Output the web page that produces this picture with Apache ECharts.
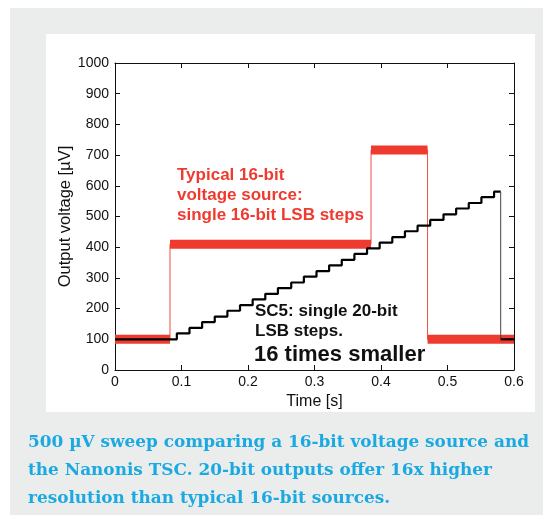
<!DOCTYPE html>
<html><head><meta charset="utf-8">
<script src="https://cdn.jsdelivr.net/npm/echarts@6/dist/echarts.min.js"></script>
<style>html,body{margin:0;padding:0;background:#fff}#c{width:543px;height:515px}</style>
</head><body><div id="c"></div>
<script>
// ---- data ----
const redTimes = [0, 0.0827, 0.385, 0.470, 0.6];          // segment boundaries [s]
const redLevels = [100, 410, 717, 100];                   // 16-bit source levels [µV]
const blackTimes = [0, 0.093, 0.112, 0.131, 0.150, 0.169, 0.188, 0.207, 0.226, 0.245, 0.265,
  0.284, 0.303, 0.322, 0.341, 0.360, 0.379, 0.398, 0.417, 0.436, 0.455, 0.474, 0.494,
  0.513, 0.532, 0.551, 0.570, 0.580, 0.6];
const blackLevels = [100, 119, 137, 156, 174, 193, 211, 230, 248, 267, 285, 304, 322, 341,
  359, 378, 396, 415, 433, 452, 470, 489, 507, 526, 544, 563, 581, 100];
const xTickValues = [0, 0.1, 0.2, 0.3, 0.4, 0.5, 0.6];
const yTickValues = [0, 100, 200, 300, 400, 500, 600, 700, 800, 900, 1000];
const redNote = ['Typical 16-bit', 'voltage source:', 'single 16-bit LSB steps'];
const blackNote = ['SC5: single 20-bit', 'LSB steps.'];
const blackNote2 = '16 times smaller';
const caption = ['500 µV sweep comparing a 16-bit voltage source and',
  'the Nanonis TSC. 20-bit outputs offer 16x higher',
  'resolution than typical 16-bit sources.'];

// ---- build series data ----
const redPath = [];
for (let i = 0; i < redLevels.length; i++) redPath.push([redTimes[i], redLevels[i]]);
redPath.push([redTimes[redTimes.length - 1], redLevels[redLevels.length - 1]]);
const redBand = [];
for (let i = 0; i < redLevels.length; i++) {
  redBand.push([redTimes[i], redLevels[i]]);
  redBand.push([redTimes[i + 1], redLevels[i]]);
  redBand.push([redTimes[i + 1], '-']);
}
const nB = blackLevels.length;
const stair = [];
for (let i = 0; i < nB - 1; i++) stair.push([blackTimes[i], blackLevels[i]]);
stair.push([blackTimes[nB - 1], blackLevels[nB - 2]]);
const drop = [[blackTimes[nB - 1], blackLevels[nB - 2]], [blackTimes[nB - 1], blackLevels[nB - 1]]];
const tail = [[blackTimes[nB - 1], blackLevels[nB - 1]], [blackTimes[nB], blackLevels[nB - 1]]];

const FONT = "'Liberation Sans', Arial, sans-serif";
const RED = '#ef3b2f';
const chart = echarts.init(document.getElementById('c'), null, { renderer: 'canvas' });

const graphics = [
  { type: 'rect', z: -10, shape: { x: 10, y: 8, width: 533, height: 507 }, style: { fill: '#ebecec' } },
  { type: 'rect', z: -9, shape: { x: 46, y: 34, width: 489, height: 378 }, style: { fill: '#ffffff' } }
];
redNote.forEach((t, i) => graphics.push({ type: 'text', x: 177, y: 175 + i * 20,
  style: { text: t, font: 'bold 17px ' + FONT, fill: RED, verticalAlign: 'middle' } }));
blackNote.forEach((t, i) => graphics.push({ type: 'text', x: 255, y: 311 + i * 20,
  style: { text: t, font: 'bold 17px ' + FONT, fill: '#111', verticalAlign: 'middle' } }));
graphics.push({ type: 'text', x: 254, y: 355,
  style: { text: blackNote2, font: 'bold 22px ' + FONT, fill: '#111', verticalAlign: 'middle' } });
caption.forEach((t, i) => graphics.push({ type: 'text', x: 28, y: 443 + i * 27.7,
  style: { text: t, font: "bold 16.9px 'DejaVu Serif', serif", fill: '#1ba9e1', verticalAlign: 'middle' } }));

const axisCommon = {
  type: 'value',
  axisLine: { show: true, onZero: false, lineStyle: { color: '#111', width: 1 } },
  axisTick: { show: true, inside: true, length: 5, lineStyle: { color: '#111' } },
  splitLine: { show: false }
};
const option = {
  animation: false,
  grid: { left: 115, right: 29, top: 63, bottom: 145 },
  xAxis: [
    Object.assign({}, axisCommon, {
      min: xTickValues[0], max: xTickValues[xTickValues.length - 1], interval: 0.1, position: 'bottom',
      name: 'Time [s]', nameLocation: 'middle', nameGap: 21,
      nameTextStyle: { fontFamily: FONT, fontSize: 16, color: '#111' },
      axisLabel: { fontFamily: FONT, fontSize: 14, color: '#111', margin: 5,
        formatter: v => v === 0 ? '0' : v.toFixed(1) }
    }),
    Object.assign({}, axisCommon, {
      min: xTickValues[0], max: xTickValues[xTickValues.length - 1], interval: 0.1, position: 'top',
      axisLabel: { show: false }
    })
  ],
  yAxis: [
    Object.assign({}, axisCommon, {
      min: yTickValues[0], max: yTickValues[yTickValues.length - 1], interval: 100, position: 'left',
      name: 'Output voltage [µV]', nameLocation: 'middle', nameGap: 41, nameMoveOverlap: false,
      nameTextStyle: { fontFamily: FONT, fontSize: 16.5, color: '#111' },
      axisLabel: { fontFamily: FONT, fontSize: 14, color: '#111', margin: 6,
        formatter: v => String(v) }
    }),
    Object.assign({}, axisCommon, {
      min: yTickValues[0], max: yTickValues[yTickValues.length - 1], interval: 100, position: 'right',
      axisLabel: { show: false }
    })
  ],
  graphic: graphics,
  series: [
    { type: 'line', data: redBand, showSymbol: false, connectNulls: false,
      lineStyle: { color: RED, width: 9 }, z: 2 },
    { type: 'line', data: redPath, step: 'end', showSymbol: false,
      lineStyle: { color: RED, width: 1, opacity: 0.9 }, z: 3 },
    { type: 'line', data: stair, step: 'end', showSymbol: false,
      lineStyle: { color: '#000', width: 2.2 }, z: 4 },
    { type: 'line', data: drop, showSymbol: false,
      lineStyle: { color: '#444', width: 1 }, z: 4 },
    { type: 'line', data: tail, showSymbol: false,
      lineStyle: { color: '#000', width: 2.2 }, z: 5 }
  ]
};
chart.setOption(option);
</script>
</body></html>
